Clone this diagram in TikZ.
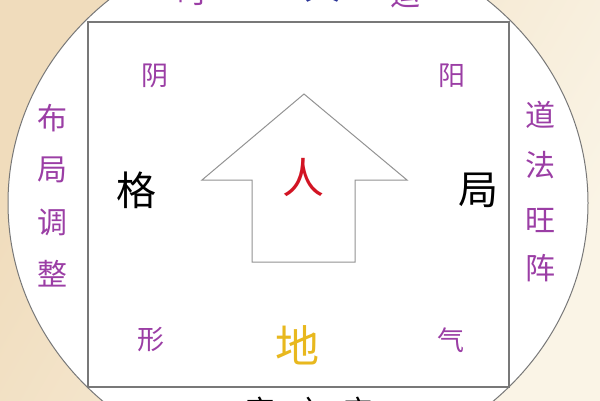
\documentclass[tikz,border=0pt]{standalone}
\usepackage{fontspec}
\newfontfamily\cjk{Noto Sans CJK SC}
\definecolor{bgtan}{RGB}{240,220,188}
\definecolor{bgcream}{RGB}{250,244,230}
\definecolor{linegray}{RGB}{120,120,120}
\definecolor{purp}{RGB}{155,62,165}
\definecolor{renred}{RGB}{210,20,35}
\definecolor{digold}{RGB}{232,184,30}
\definecolor{tianblue}{RGB}{40,50,150}
\tikzset{
  small/.style={font=\cjk\fontsize{27}{27}\selectfont, text=purp, inner sep=0pt},
  side/.style={font=\cjk\fontsize{30}{30}\selectfont, text=purp, inner sep=0pt},
  big/.style={font=\cjk\fontsize{40}{40}\selectfont, text=black, inner sep=0pt},
  frame/.style={draw=linegray, line width=1.4pt},
}
\begin{document}
\begin{tikzpicture}[x=1pt,y=-1pt]
\useasboundingbox (0,0) rectangle (600,400);
\clip (0,0) rectangle (600,400);
% background
\shade[left color=bgtan, right color=bgcream, shading angle=60] (0,0) rectangle (600,400);
% circle (ellipse)
\draw[fill=white, draw=linegray, line width=1pt] (298,203) ellipse [x radius=290, y radius=268];
% square
\node[frame, minimum width=421pt, minimum height=365pt, inner sep=0pt] (sq) at (298.5,204.5) {};
% arrow
\draw[draw=linegray!80, line width=1pt]
  (304,94) -- (407,180) -- (355,180) -- (355,262) -- (252,262) -- (252,180) -- (202,180) -- cycle;
% central texts
\node[font=\cjk\fontsize{42}{42}\selectfont, text=renred, inner sep=0pt] (ren) at (303,178) {人};
\node[font=\cjk\fontsize{44}{44}\selectfont, text=digold, inner sep=0pt] (di) at (297,345) {地};
% corners
\node[small] (yin) at (155,76) {阴};
\node[small] (yang) at (452,76) {阳};
\node[small] (xing) at (151,340) {形};
\node[small] (qi) at (451,340) {气};
% sides
\node[big] (ge) at (136,190) {格};
\node[big] (ju) at (478,190) {局};
% left column
\node[side] (l1) at (52,118) {布};
\node[side] (l2) at (52,170) {局};
\node[side] (l3) at (52,222) {调};
\node[side] (l4) at (52,274) {整};
% right column
\node[side] (r1) at (540,115) {道};
\node[side] (r2) at (540,165) {法};
\node[side] (r3) at (540,220) {旺};
\node[side] (r4) at (540,268) {阵};
% top partial texts
\node[font=\cjk\fontsize{30}{30}\selectfont, text=purp, inner sep=0pt, anchor=south] (t1) at (192,6) {时};
\node[font=\cjk\fontsize{36}{36}\selectfont, text=tianblue, inner sep=0pt, anchor=south] (t2) at (322,3) {天};
\node[font=\cjk\fontsize{30}{30}\selectfont, text=purp, inner sep=0pt, anchor=south] (t3) at (405,8) {运};
% bottom partial texts
\node[font=\cjk\fontsize{30}{30}\selectfont, text=black, inner sep=0pt, anchor=north] (b1) at (260,397) {宅};
\node[font=\cjk\fontsize{30}{30}\selectfont, text=black, inner sep=0pt, anchor=north] (b2) at (309,397) {之};
\node[font=\cjk\fontsize{30}{30}\selectfont, text=black, inner sep=0pt, anchor=north] (b3) at (358,397) {宝};
\end{tikzpicture}
\end{document}
